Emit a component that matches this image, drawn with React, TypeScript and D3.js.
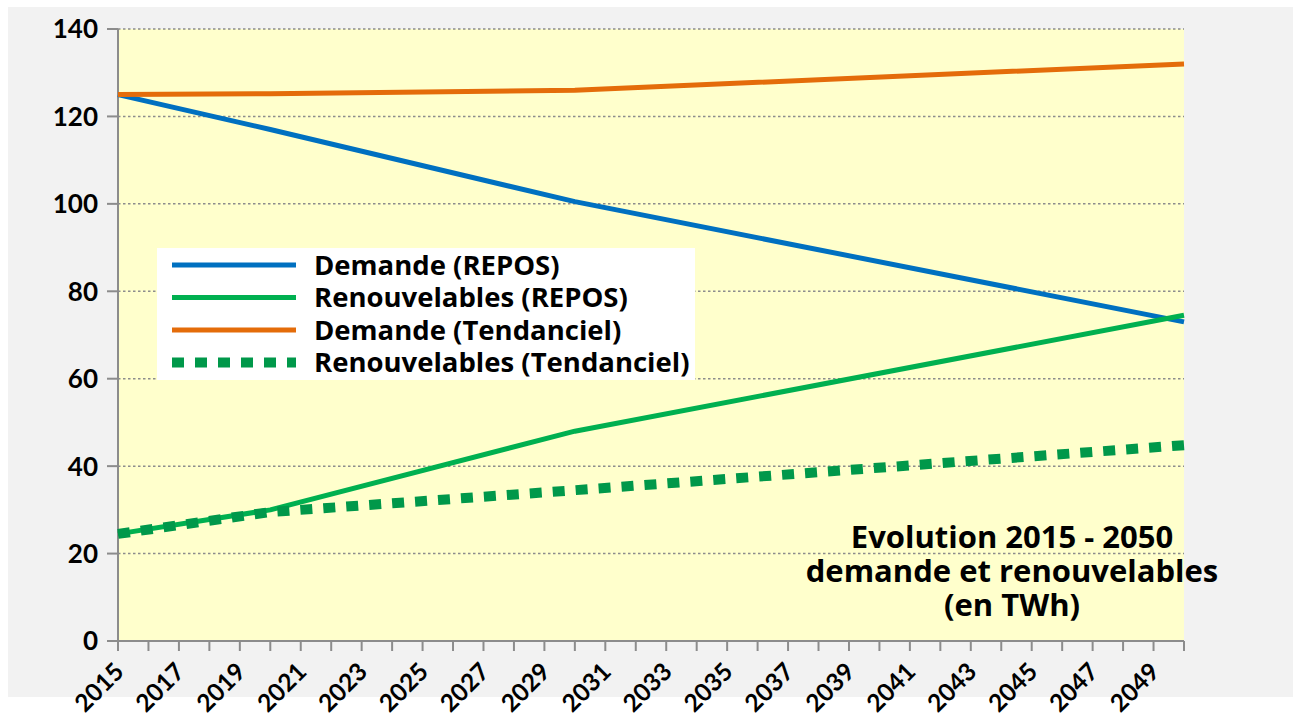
import React from "react";
import * as d3 from "d3";

const keyYears = [2015, 2020, 2030, 2050];
const demandeRepos = [125, 117, 100.5, 73];
const renouvRepos = [24.5, 30, 48, 74.5];
const demandeTend = [125, 125.2, 126, 132];
const renouvTend = [24.5, 29.5, 34.5, 44.8];

const tickYears = [2015, 2016, 2017, 2018, 2019, 2020, 2021, 2022, 2023, 2024, 2025, 2026, 2027, 2028, 2029, 2030, 2031, 2032, 2033, 2034, 2035, 2036, 2037, 2038, 2039, 2040, 2041, 2042, 2043, 2044, 2045, 2046, 2047, 2048, 2049, 2050];
const labelYears = [2015, 2017, 2019, 2021, 2023, 2025, 2027, 2029, 2031, 2033, 2035, 2037, 2039, 2041, 2043, 2045, 2047, 2049];
const yTicks = [0, 20, 40, 60, 80, 100, 120, 140];

const seriesNames = [
  "Demande (REPOS)",
  "Renouvelables (REPOS)",
  "Demande (Tendanciel)",
  "Renouvelables (Tendanciel)",
];
const seriesValues = [demandeRepos, renouvRepos, demandeTend, renouvTend];
const seriesColors = ["#0070C0", "#00B050", "#E46C0A", "#00984A"];
const titleLines = ["Evolution 2015 - 2050", "demande et renouvelables", "(en TWh)"];

const FONT = "Lato, 'DejaVu Sans', sans-serif";
const FONT2 = "'Open Sans', Lato, sans-serif";

export default function App() {
  const W = 1293, H = 719;
  const left = 118, right = 1184, top = 29, bottom = 641;
  const x = d3.scaleLinear().domain([2015, 2050]).range([left, right]);
  const y = d3.scaleLinear().domain([0, 140]).range([bottom, top]);
  const line = d3
    .line<[number, number]>()
    .x((d) => x(d[0]))
    .y((d) => y(d[1]));

  const styles = seriesColors.map((c, i) => ({
    stroke: c,
    width: i === 3 ? 10 : 5,
    dash: i === 3 ? "12 11" : undefined,
  }));

  const legX = 157, legY = 248, legW = 538, legH = 132;
  const legRow = 32.5;

  return (
    <svg
      width={W}
      height={H}
      style={{ position: "absolute", left: 0, top: 0, fontFamily: FONT }}
    >
      <rect x={8} y={7} width={W - 8} height={690} fill="#F2F2F2" />
      <rect x={left} y={top} width={right - left} height={bottom - top} fill="#FFFFCC" />
      {yTicks.filter((t) => t > 0).map((t) => (
        <line
          key={"g" + t}
          x1={left}
          x2={right}
          y1={y(t)}
          y2={y(t)}
          stroke="#8C8C8C"
          strokeWidth={1.5}
          strokeDasharray="2.5 2.5"
        />
      ))}
      {/* y axis */}
      <line x1={left} x2={left} y1={top} y2={bottom} stroke="#8C8C8C" strokeWidth={2} />
      {yTicks.map((t) => (
        <g key={"y" + t}>
          <line x1={left - 11} x2={left} y1={y(t)} y2={y(t)} stroke="#8C8C8C" strokeWidth={2} />
          <text
            x={98}
            y={y(t)}
            dy="0.36em"
            textAnchor="end"
            fontSize={26}
            fontWeight="bold"
            fill="#000"
          >
            {t}
          </text>
        </g>
      ))}
      {/* x axis */}
      <line x1={left} x2={right} y1={bottom} y2={bottom} stroke="#8C8C8C" strokeWidth={2} />
      {tickYears.map((yr) => (
        <line
          key={"t" + yr}
          x1={x(yr)}
          x2={x(yr)}
          y1={bottom}
          y2={bottom + 10}
          stroke="#8C8C8C"
          strokeWidth={2}
        />
      ))}
      {labelYears.map((yr) => (
        <text
          key={"l" + yr}
          transform={`translate(${x(yr) + 1},${667}) rotate(-45)`}
          textAnchor="end"
          dy="0.36em"
          fontSize={24.5}
          fontWeight="bold"
          fill="#000"
        >
          {yr}
        </text>
      ))}
      {/* series */}
      {seriesValues.map((vals, i) => (
        <path
          key={"s" + i}
          d={line(keyYears.map((k, j) => [k, vals[j]]) as [number, number][]) || ""}
          fill="none"
          stroke={styles[i].stroke}
          strokeWidth={styles[i].width}
          strokeDasharray={styles[i].dash}
          strokeLinejoin="round"
        />
      ))}
      {/* legend */}
      <rect x={legX} y={legY} width={legW} height={legH} fill="#FFFFFF" />
      {seriesNames.map((name, i) => {
        const ly = legY + 17 + i * legRow;
        return (
          <g key={"lg" + i}>
            <line
              x1={172}
              x2={296}
              y1={ly}
              y2={ly}
              stroke={styles[i].stroke}
              strokeWidth={i === 3 ? 10 : 5}
              strokeDasharray={styles[i].dash}
            />
            <text
              x={314}
              y={ly}
              dy="0.36em"
              fontSize={27.5}
              fontWeight="bold"
              fontFamily={FONT2}
              fill="#000"
            >
              {name}
            </text>
          </g>
        );
      })}
      {/* title */}
      {titleLines.map((t, i) => (
        <text
          key={"tt" + i}
          x={1012}
          y={548 + i * 34}
          textAnchor="middle"
          fontSize={31}
          fontWeight="bold"
          fontFamily={FONT2}
          fill="#000"
        >
          {t}
        </text>
      ))}
    </svg>
  );
}
